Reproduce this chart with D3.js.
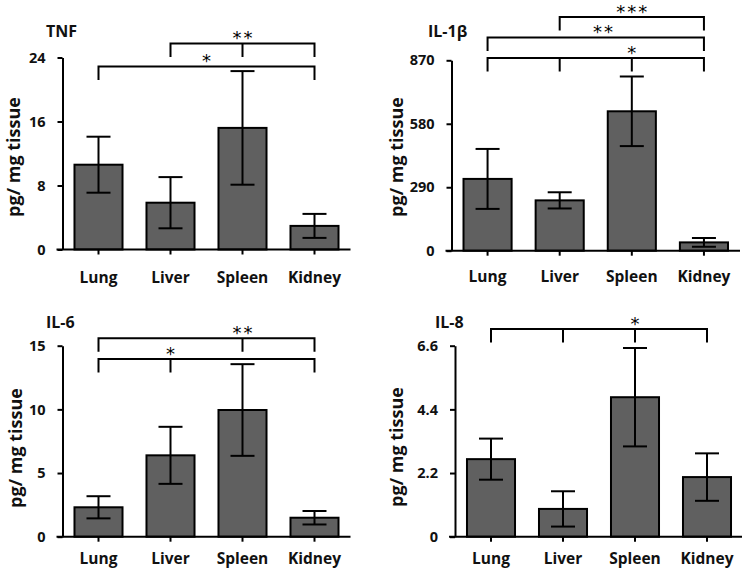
<!DOCTYPE html>
<html>
<head>
<meta charset="utf-8">
<script src="https://cdn.jsdelivr.net/npm/d3@7"></script>
<style>
  html, body { margin: 0; padding: 0; background: #fff; }
  svg { display: block; font-family: "Open Sans", Lato, "DejaVu Sans", sans-serif; }
</style>
</head>
<body>
<svg id="chart" width="742" height="568"></svg>
<script>
// ---------- data ----------
const categories = ["Lung", "Liver", "Spleen", "Kidney"];

const tnfMean  = [10.6, 5.85, 15.2, 2.95];
const tnfErr   = [3.5, 3.2, 7.1, 1.5];
const tnfTicks = [0, 8, 16, 24];
const tnfTickLabels = ["0", "8", "16", "24"];
const tnfBrackets = [
  { from: 0, to: 3, mid: [], label: "*", at: 1.5, level: 0 },
  { from: 1, to: 3, mid: [2], label: "**", at: 2, level: 1 }
];

const il1bMean  = [328, 230, 637, 38];
const il1bErr   = [137, 37, 159, 20];
const il1bTicks = [0, 290, 580, 870];
const il1bTickLabels = ["0", "290", "580", "870"];
const il1bBrackets = [
  { from: 0, to: 3, mid: [1, 2], label: "*", at: 2, level: 0 },
  { from: 0, to: 3, mid: [], label: "**", at: 1.6, level: 1 },
  { from: 1, to: 3, mid: [], label: "***", at: 2, level: 2 }
];

const il6Mean  = [2.31, 6.39, 9.95, 1.49];
const il6Err   = [0.87, 2.24, 3.6, 0.53];
const il6Ticks = [0, 5, 10, 15];
const il6TickLabels = ["0", "5", "10", "15"];
const il6Brackets = [
  { from: 0, to: 3, mid: [1], label: "*", at: 1, level: 0 },
  { from: 0, to: 3, mid: [2], label: "**", at: 2, level: 1 }
];

const il8Mean  = [2.68, 0.96, 4.82, 2.06];
const il8Err   = [0.71, 0.61, 1.7, 0.82];
const il8Ticks = [0, 2.2, 4.4, 6.6];
const il8TickLabels = ["0", "2.2", "4.4", "6.6"];
const il8Brackets = [
  { from: 0, to: 3, mid: [1, 2], label: "*", at: 2, level: 0 }
];

const yAxisLabel = "pg/ mg tissue";

// ---------- layout ----------
const panels = [
  { title: "TNF", mean: tnfMean, err: tnfErr, ticks: tnfTicks, tickLabels: tnfTickLabels, brackets: tnfBrackets,
    x0: 62.5, x1: 350.5, yTop: 57.5, yBot: 249.5, titleX: 46, titleY: 37, ylabX: 14, ylabY: 157,
    bBase: 66.5, bStep: 23, xlabDy: 33 },
  { title: "IL-1β", mean: il1bMean, err: il1bErr, ticks: il1bTicks, tickLabels: il1bTickLabels, brackets: il1bBrackets,
    x0: 451.5, x1: 740, yTop: 60.3, yBot: 250.7, titleX: 428, titleY: 37, ylabX: 397, ylabY: 157,
    bBase: 58, bStep: 20.5, xlabDy: 31.5 },
  { title: "IL-6", mean: il6Mean, err: il6Err, ticks: il6Ticks, tickLabels: il6TickLabels, brackets: il6Brackets,
    x0: 62.5, x1: 350.5, yTop: 345.7, yBot: 536.7, titleX: 46, titleY: 327.5, ylabX: 16, ylabY: 448,
    bBase: 359, bStep: 20.7, xlabDy: 27.5 },
  { title: "IL-8", mean: il8Mean, err: il8Err, ticks: il8Ticks, tickLabels: il8TickLabels, brackets: il8Brackets,
    x0: 455, x1: 743, yTop: 345.7, yBot: 536.7, titleX: 435, titleY: 327.5, ylabX: 397, ylabY: 447,
    bBase: 329, bStep: 21, xlabDy: 27.5 }
];

const svg = d3.select("#chart");
svg.append("rect").attr("width", 742).attr("height", 568).attr("fill", "#fff");

const ink = "#111";
const barFill = "#606060";
const bracketTick = 13.5;
const capHalf = 12;
const fontMain = "'Open Sans', Lato, sans-serif";

panels.forEach(p => {
  const g = svg.append("g");
  const x = d3.scaleBand().domain(categories).range([p.x0, p.x1])
    .paddingInner(0.333).paddingOuter(0.1665);
  const y = d3.scaleLinear().domain([0, p.ticks[p.ticks.length - 1]]).range([p.yBot, p.yTop]);
  const cx = i => x(categories[i]) + x.bandwidth() / 2;

  // bars
  g.selectAll("rect.bar").data(categories).join("rect")
    .attr("class", "bar")
    .attr("x", d => x(d))
    .attr("width", x.bandwidth())
    .attr("y", (d, i) => y(p.mean[i]))
    .attr("height", (d, i) => y(0) - y(p.mean[i]))
    .attr("fill", barFill)
    .attr("stroke", "#000")
    .attr("stroke-width", 2);

  // error bars
  const eb = g.selectAll("g.eb").data(categories).join("g").attr("class", "eb")
    .attr("stroke", "#000").attr("stroke-width", 2);
  eb.append("line")
    .attr("x1", (d, i) => cx(i)).attr("x2", (d, i) => cx(i))
    .attr("y1", (d, i) => y(p.mean[i] - p.err[i]))
    .attr("y2", (d, i) => y(p.mean[i] + p.err[i]));
  eb.append("line")
    .attr("x1", (d, i) => cx(i) - capHalf).attr("x2", (d, i) => cx(i) + capHalf)
    .attr("y1", (d, i) => y(p.mean[i] + p.err[i]))
    .attr("y2", (d, i) => y(p.mean[i] + p.err[i]));
  eb.append("line")
    .attr("x1", (d, i) => cx(i) - capHalf).attr("x2", (d, i) => cx(i) + capHalf)
    .attr("y1", (d, i) => y(p.mean[i] - p.err[i]))
    .attr("y2", (d, i) => y(p.mean[i] - p.err[i]));

  // y axis
  const ya = g.append("g").attr("transform", `translate(${p.x0},0)`)
    .call(d3.axisLeft(y).tickValues(p.ticks).tickSize(5).tickSizeOuter(0).tickPadding(12)
      .tickFormat((d, i) => p.tickLabels[i]));
  ya.select(".domain").attr("stroke", "#000").attr("stroke-width", 2);
  ya.selectAll(".tick line").attr("stroke", "#000").attr("stroke-width", 2);
  ya.selectAll(".tick text").attr("font-size", 14.5).attr("font-weight", "bold")
    .attr("fill", ink).attr("font-family", fontMain);

  // x axis
  const xa = g.append("g").attr("transform", `translate(0,${p.yBot})`)
    .call(d3.axisBottom(x).tickSize(5).tickSizeOuter(0).tickFormat(""));
  xa.select(".domain").remove();
  xa.selectAll(".tick line").attr("stroke", "#000").attr("stroke-width", 2);
  g.append("line").attr("x1", p.x0 - 6).attr("x2", p.x1).attr("y1", p.yBot).attr("y2", p.yBot)
    .attr("stroke", "#000").attr("stroke-width", 2);
  g.selectAll("text.xlab").data(categories).join("text")
    .attr("class", "xlab")
    .attr("x", (d, i) => cx(i)).attr("y", p.yBot + p.xlabDy)
    .attr("text-anchor", "middle").attr("font-size", 15.5).attr("font-weight", "bold")
    .attr("fill", ink).text(d => d);

  // title
  g.append("text").attr("x", p.titleX).attr("y", p.titleY)
    .attr("font-size", 16).attr("font-weight", "bold").attr("fill", ink).text(p.title);

  // y axis label
  g.append("text")
    .attr("transform", `translate(${p.ylabX},${p.ylabY}) rotate(-90)`)
    .attr("text-anchor", "middle").attr("dy", "0.35em")
    .attr("font-size", 18).attr("font-weight", "bold").attr("fill", ink).text(yAxisLabel);

  // significance brackets
  p.brackets.forEach(b => {
    const by = p.bBase - b.level * p.bStep;
    const path = d3.path();
    path.moveTo(cx(b.from), by + bracketTick);
    path.lineTo(cx(b.from), by);
    path.lineTo(cx(b.to), by);
    path.lineTo(cx(b.to), by + bracketTick);
    b.mid.forEach(m => { path.moveTo(cx(m), by); path.lineTo(cx(m), by + bracketTick); });
    g.append("path").attr("d", path.toString()).attr("fill", "none")
      .attr("stroke", "#000").attr("stroke-width", 2);
    g.append("text")
      .attr("x", cx(0) + b.at * x.step() + 1).attr("y", by + 0.5)
      .attr("text-anchor", "middle").attr("font-size", 18).attr("fill", "#000")
      .attr("font-family", "'DejaVu Sans', sans-serif")
      .attr("letter-spacing", "2px")
      .text(b.label);
  });
});
</script>
</body>
</html>
